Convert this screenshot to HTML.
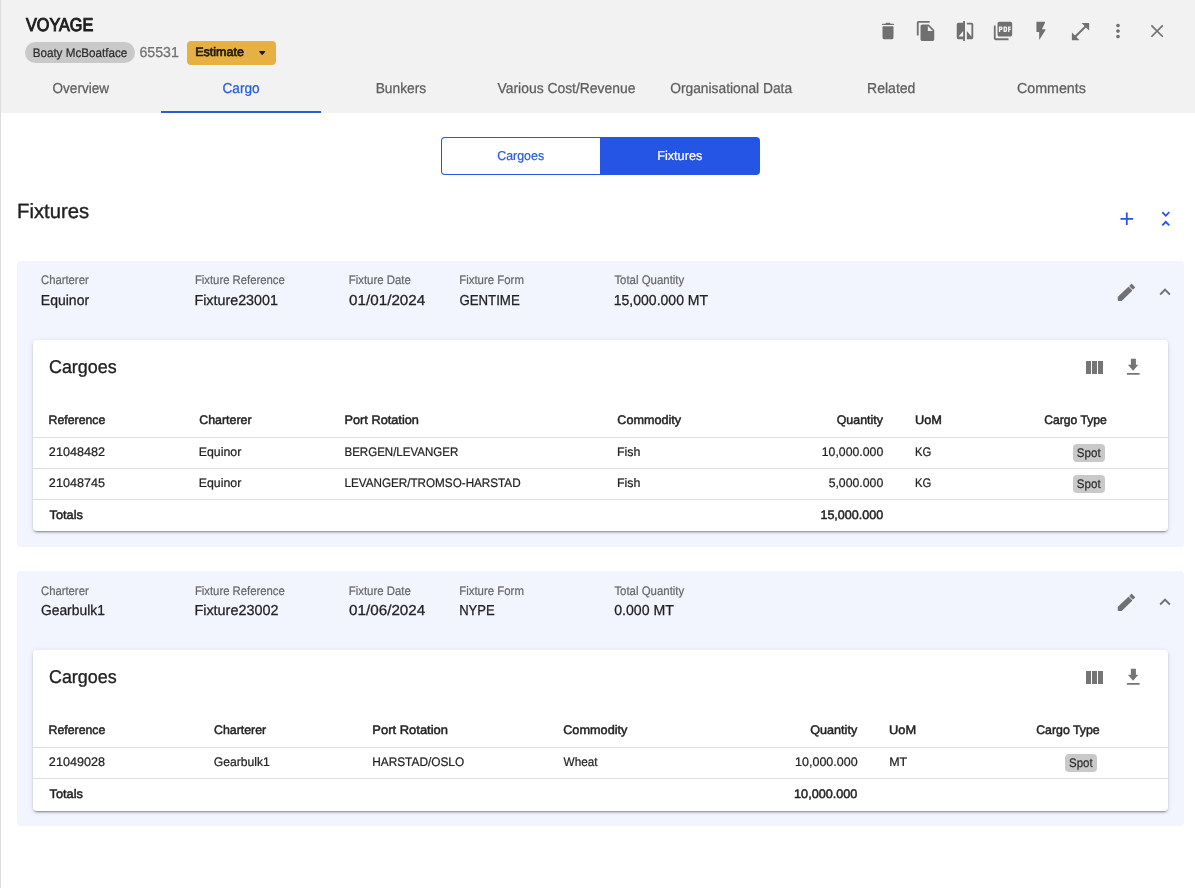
<!DOCTYPE html>
<html><head><meta charset="utf-8">
<style>
html,body{margin:0;padding:0;}
body{width:1195px;height:888px;position:relative;overflow:hidden;background:#fff;font-family:"Liberation Sans",sans-serif;}
.a{position:absolute;}
.t{position:absolute;left:0;top:0;white-space:nowrap;line-height:1;transform-origin:0 0;text-rendering:geometricPrecision;}
svg{position:absolute;overflow:visible;}
.hl{position:absolute;height:1px;background:#dedede;}
</style></head><body>
<!-- left border -->
<div class="a" style="left:0;top:0;width:1px;height:888px;background:#dcdcdc"></div>
<!-- header -->
<div class="a" style="left:1px;top:0;width:1194px;height:113px;background:#f2f2f2"></div>
<div class="a" style="left:161px;top:111px;width:160px;height:2px;background:#2a5bd7"></div>
<!-- vessel chip -->
<div class="a" style="left:25px;top:42.3px;width:110px;height:20.5px;border-radius:11px;background:#c9c9c9"></div>
<!-- estimate button -->
<div class="a" style="left:187.2px;top:41.1px;width:88.8px;height:23.7px;border-radius:4px;background:#e6b142"></div>
<svg style="left:259px;top:51.2px" width="6.4" height="4" viewBox="0 0 6.4 4"><path d="M0.8 0.7 L5.6 0.7 L3.2 3.3 Z" fill="#1f1a0e" stroke="#1f1a0e" stroke-width="1.2" stroke-linejoin="round"/></svg>
<!-- header icons -->
<svg style="left:877.27px;top:20.07px" width="22" height="22" viewBox="0 0 24 24" fill="#707070"><path d="M6 4h3.200l.8-1h4l.8 1H18a.75.75 0 0 1 0 1.500H6a.75.75 0 0 1 0-1.500z M6.800 6.900h10.400a.8.8 0 0 1 .8.800V19a2 2 0 0 1-2 2H8a2 2 0 0 1-2-2V7.700a.8.8 0 0 1 .8-.8z"/></svg>
<svg style="left:915.26px;top:20.10px" width="22" height="22" viewBox="0 0 24 24" fill="#707070"><path d="M16 1H4c-1.100 0-2 .9-2 2v14h2V3h12V1zm-1 4l6 6v10c0 1.100-.9 2-2 2H7.990C6.890 23 6 22.100 6 21l.010-14c0-1.100.890-2 1.990-2h7zm-1 7h5.500L14 6.500V12z"/></svg>
<svg style="left:954.15px;top:19.85px" width="22" height="22" viewBox="0 0 24 24" fill="#707070"><path d="M10 3H5c-1.100 0-2 .9-2 2v14c0 1.100.9 2 2 2h5v2h2V1h-2v2zm0 15H5l5-6v6zm9-15h-5v2h5v13l-5-6v9h5c1.100 0 2-.9 2-2V5c0-1.100-.9-2-2-2z"/></svg>
<svg style="left:992.30px;top:20.10px" width="22" height="22" viewBox="0 0 24 24" fill="#707070"><path d="M20 2H8c-1.100 0-2 .9-2 2v12c0 1.100.9 2 2 2h12c1.100 0 2-.9 2-2V4c0-1.100-.9-2-2-2zm-8.500 7.500c0 .830-.670 1.500-1.500 1.500H9v2H7.500V7H10c.830 0 1.500.670 1.500 1.500v1zm5 2c0 .830-.670 1.500-1.500 1.500h-2.500V7H15c.830 0 1.500.670 1.500 1.500v3zm4-3H19v1h1.500V11H19v2h-1.500V7h3v1.500zM9 9.500h1v-1H9v1zM4 6H2v14c0 1.100.9 2 2 2h14v-2H4V6zm10 5.500h1v-3h-1v3z"/></svg>
<svg style="left:1029.80px;top:19.80px" width="22" height="22" viewBox="0 0 24 24" fill="#707070"><path d="M7.400 2h8.400c.5 0 .8.500.6 1l-3.400 7h3.200c.6 0 .9.600.6 1.100L10.400 21.300c-.1.300-.4.100-.4-.1V13H7.400c-.2 0-.4-.2-.4-.4V2.400c0-.2.200-.4.400-.4z"/></svg>
<svg style="left:1068.60px;top:19.66px" width="23" height="23" viewBox="0 0 24 24" fill="#707070"><path d="M21 11V3h-8l3.290 3.290-10 10L3 13v8h8l-3.290-3.290 10-10z"/></svg>
<svg style="left:1107.20px;top:20.10px" width="22" height="22" viewBox="0 0 24 24" fill="#707070"><path d="M12 8c1.100 0 2-.9 2-2s-.9-2-2-2-2 .9-2 2 .9 2 2 2zm0 2c-1.100 0-2 .9-2 2s.9 2 2 2 2-.9 2-2-.9-2-2-2zm0 6c-1.100 0-2 .9-2 2s.9 2 2 2 2-.9 2-2-.9-2-2-2z"/></svg>
<svg style="left:0;top:0" width="1195" height="60" viewBox="0 0 1195 60" fill="none" stroke="#707070" stroke-width="1.7"><path d="M1151.40 25.37L1162.80 36.77M1162.80 25.37L1151.40 36.77"/></svg>
<!-- toggle -->
<div class="a" style="left:441px;top:137px;width:319px;height:38px;border-radius:4px;background:#2455e4"></div>
<div class="a" style="left:442px;top:138px;width:158px;height:36px;border-radius:3px 0 0 3px;background:#fff"></div>
<!-- heading icons -->
<svg style="left:1115.9px;top:208px" width="21.6" height="21.6" viewBox="0 0 24 24" fill="#2455e4"><path d="M19 13h-6v6h-2v-6H5v-2h6V5h2v6h6v2z"/></svg>
<svg style="left:1154.7px;top:207.9px" width="21.6" height="21.6" viewBox="0 0 24 24" fill="#2455e4"><path d="M7.410 18.590L8.830 20 12 16.830 15.170 20l1.410-1.410L12 14l-4.590 4.590zm9.180-13.180L15.170 4 12 7.170 8.830 4 7.410 5.410 12 10l4.590-4.590z"/></svg>
<div class="a" style="left:17px;top:261.3px;width:1167px;height:285.4px;border-radius:4px;background:#f2f5fd"></div>
<div class="a" style="left:32.8px;top:339.6px;width:1135.4px;height:191.2px;border-radius:4px;background:#fff;box-shadow:0 3px 1px -2px rgba(0,0,0,.2),0 2px 2px 0 rgba(0,0,0,.14),0 1px 5px 0 rgba(0,0,0,.12)"></div>
<div class="hl" style="left:33px;top:437px;width:1135px"></div>
<div class="hl" style="left:33px;top:468px;width:1135px"></div>
<div class="hl" style="left:33px;top:499px;width:1135px"></div>
<svg style="left:0;top:278px" width="1195" height="40" viewBox="0 278 1195 40" fill="#6f7174" stroke="#6f7174" stroke-width="1.2" stroke-linejoin="round"><path d="M1128.55 287.45 L1131.55 290.45 L1121.5 300.3 L1118.4 300.3 L1118.3 297.2 Z"/><path d="M1129.95 286.05 L1131.6 284.4 L1134.5 287.3 L1132.85 288.95 Z"/></svg>
<svg style="left:1154.35px;top:281.2px" width="22" height="22" viewBox="0 0 24 24" fill="#6f7174"><path d="M12 8l-6 6 1.410 1.410L12 10.830l4.590 4.580L18 14z"/></svg>
<svg style="left:1081.7px;top:355.8px" width="24" height="24" viewBox="0 0 24 24" fill="#757575"><path d="M10 18h5V5h-5v13zm-6 0h5V5H4v13zM16 5v13h5V5h-5z"/></svg>
<svg style="left:0;top:352px" width="1195" height="30" viewBox="0 352 1195 30" fill="#757575"><path d="M1130.9 358.7 H1135.9 V364.7 H1138.3 L1133.1 370.7 L1127.9 364.7 H1130.9 Z M1126.9 372.95 H1139.6 V374.75 H1126.9 Z"/></svg>
<div class="a" style="left:17px;top:571.3px;width:1167px;height:254.4px;border-radius:4px;background:#f2f5fd"></div>
<div class="a" style="left:32.8px;top:649.6px;width:1135.4px;height:161.2px;border-radius:4px;background:#fff;box-shadow:0 3px 1px -2px rgba(0,0,0,.2),0 2px 2px 0 rgba(0,0,0,.14),0 1px 5px 0 rgba(0,0,0,.12)"></div>
<div class="hl" style="left:33px;top:747px;width:1135px"></div>
<div class="hl" style="left:33px;top:778px;width:1135px"></div>
<svg style="left:0;top:588px" width="1195" height="40" viewBox="0 278 1195 40" fill="#6f7174" stroke="#6f7174" stroke-width="1.2" stroke-linejoin="round"><path d="M1128.55 287.45 L1131.55 290.45 L1121.5 300.3 L1118.4 300.3 L1118.3 297.2 Z"/><path d="M1129.95 286.05 L1131.6 284.4 L1134.5 287.3 L1132.85 288.95 Z"/></svg>
<svg style="left:1154.35px;top:591.2px" width="22" height="22" viewBox="0 0 24 24" fill="#6f7174"><path d="M12 8l-6 6 1.410 1.410L12 10.830l4.590 4.580L18 14z"/></svg>
<svg style="left:1081.7px;top:665.8px" width="24" height="24" viewBox="0 0 24 24" fill="#757575"><path d="M10 18h5V5h-5v13zm-6 0h5V5H4v13zM16 5v13h5V5h-5z"/></svg>
<svg style="left:0;top:662px" width="1195" height="30" viewBox="0 352 1195 30" fill="#757575"><path d="M1130.9 358.7 H1135.9 V364.7 H1138.3 L1133.1 370.7 L1127.9 364.7 H1130.9 Z M1126.9 372.95 H1139.6 V374.75 H1126.9 Z"/></svg>
<div class="a" style="left:1073px;top:444.2px;width:32px;height:17.5px;border-radius:4px;background:#c9c9c9"></div>
<div class="a" style="left:1073px;top:475.3px;width:32px;height:17.5px;border-radius:4px;background:#c9c9c9"></div>
<div class="a" style="left:1065px;top:754.3px;width:32px;height:17.5px;border-radius:4px;background:#c9c9c9"></div>

<div id="tx" style="position:absolute;left:0;top:0;width:1195px;height:888px;will-change:transform;">
<span class="t" style="font-size:18.5px;color:#1f1f1f;-webkit-text-stroke:1.02px #1f1f1f;transform:translate(25.97px,16.00px) scaleX(0.8767)">VOYAGE</span>
<span class="t" style="font-size:12.4px;color:#2b2b2b;-webkit-text-stroke:0.22px #2b2b2b;transform:translate(32.63px,47.00px) scaleX(0.9410)">Boaty McBoatface</span>
<span class="t" style="font-size:14.4px;color:#707070;-webkit-text-stroke:0.26px #707070;transform:translate(139.40px,46.00px) scaleX(0.9859)">65531</span>
<span class="t" style="font-size:12.4px;color:#1f1a0e;-webkit-text-stroke:0.68px #1f1a0e;transform:translate(195.16px,46.00px) scaleX(1.0108)">Estimate</span>
<span class="t" style="font-size:14.4px;color:#5e5e5e;-webkit-text-stroke:0.26px #5e5e5e;transform:translate(52.59px,82.00px) scaleX(0.9397)">Overview</span>
<span class="t" style="font-size:14.4px;color:#2a5bd7;-webkit-text-stroke:0.26px #2a5bd7;transform:translate(222.49px,82.00px) scaleX(0.9473)">Cargo</span>
<span class="t" style="font-size:14.4px;color:#5e5e5e;-webkit-text-stroke:0.26px #5e5e5e;transform:translate(375.70px,82.00px) scaleX(0.9549)">Bunkers</span>
<span class="t" style="font-size:14.4px;color:#5e5e5e;-webkit-text-stroke:0.26px #5e5e5e;transform:translate(497.54px,82.00px) scaleX(0.9645)">Various Cost/Revenue</span>
<span class="t" style="font-size:14.4px;color:#5e5e5e;-webkit-text-stroke:0.26px #5e5e5e;transform:translate(670.17px,82.00px) scaleX(0.9585)">Organisational Data</span>
<span class="t" style="font-size:14.4px;color:#5e5e5e;-webkit-text-stroke:0.26px #5e5e5e;transform:translate(867.06px,82.00px) scaleX(0.9746)">Related</span>
<span class="t" style="font-size:14.4px;color:#5e5e5e;-webkit-text-stroke:0.26px #5e5e5e;transform:translate(1016.92px,82.00px) scaleX(0.9914)">Comments</span>
<span class="t" style="font-size:12.9px;color:#2a5bd7;-webkit-text-stroke:0.23px #2a5bd7;transform:translate(497.26px,150.00px) scaleX(0.9607)">Cargoes</span>
<span class="t" style="font-size:12.9px;color:#ffffff;-webkit-text-stroke:0.23px #ffffff;transform:translate(657.13px,150.00px) scaleX(0.9859)">Fixtures</span>
<span class="t" style="font-size:20.6px;color:#1f1f1f;-webkit-text-stroke:0.37px #1f1f1f;transform:translate(17.06px,202.00px) scaleX(0.9858)">Fixtures</span>
<span class="t" style="font-size:12.4px;color:#666769;-webkit-text-stroke:0.22px #666769;transform:translate(40.98px,274.00px) scaleX(0.9113)">Charterer</span>
<span class="t" style="font-size:12.4px;color:#666769;-webkit-text-stroke:0.22px #666769;transform:translate(194.90px,274.00px) scaleX(0.9131)">Fixture Reference</span>
<span class="t" style="font-size:12.4px;color:#666769;-webkit-text-stroke:0.22px #666769;transform:translate(348.78px,274.00px) scaleX(0.9178)">Fixture Date</span>
<span class="t" style="font-size:12.4px;color:#666769;-webkit-text-stroke:0.22px #666769;transform:translate(459.23px,274.00px) scaleX(0.9209)">Fixture Form</span>
<span class="t" style="font-size:12.4px;color:#666769;-webkit-text-stroke:0.22px #666769;transform:translate(614.38px,274.00px) scaleX(0.9223)">Total Quantity</span>
<span class="t" style="font-size:14.4px;color:#222222;-webkit-text-stroke:0.26px #222222;transform:translate(40.84px,294.00px) scaleX(0.9725)">Equinor</span>
<span class="t" style="font-size:14.4px;color:#222222;-webkit-text-stroke:0.26px #222222;transform:translate(194.44px,294.00px) scaleX(0.9938)">Fixture23001</span>
<span class="t" style="font-size:14.4px;color:#222222;-webkit-text-stroke:0.26px #222222;transform:translate(349.07px,294.00px) scaleX(1.0578)">01/01/2024</span>
<span class="t" style="font-size:14.4px;color:#222222;-webkit-text-stroke:0.26px #222222;transform:translate(459.38px,294.00px) scaleX(0.9208)">GENTIME</span>
<span class="t" style="font-size:14.4px;color:#222222;-webkit-text-stroke:0.26px #222222;transform:translate(613.68px,294.00px) scaleX(0.9759)">15,000.000 MT</span>
<span class="t" style="font-size:18.5px;color:#222222;-webkit-text-stroke:0.33px #222222;transform:translate(48.95px,358.00px) scaleX(0.9691)">Cargoes</span>
<span class="t" style="font-size:12.4px;color:#666769;-webkit-text-stroke:0.22px #666769;transform:translate(40.98px,585.00px) scaleX(0.9113)">Charterer</span>
<span class="t" style="font-size:12.4px;color:#666769;-webkit-text-stroke:0.22px #666769;transform:translate(194.90px,585.00px) scaleX(0.9131)">Fixture Reference</span>
<span class="t" style="font-size:12.4px;color:#666769;-webkit-text-stroke:0.22px #666769;transform:translate(348.78px,585.00px) scaleX(0.9178)">Fixture Date</span>
<span class="t" style="font-size:12.4px;color:#666769;-webkit-text-stroke:0.22px #666769;transform:translate(459.23px,585.00px) scaleX(0.9209)">Fixture Form</span>
<span class="t" style="font-size:12.4px;color:#666769;-webkit-text-stroke:0.22px #666769;transform:translate(614.38px,585.00px) scaleX(0.9223)">Total Quantity</span>
<span class="t" style="font-size:14.4px;color:#222222;-webkit-text-stroke:0.26px #222222;transform:translate(40.91px,604.00px) scaleX(0.9633)">Gearbulk1</span>
<span class="t" style="font-size:14.4px;color:#222222;-webkit-text-stroke:0.26px #222222;transform:translate(194.42px,604.00px) scaleX(0.9996)">Fixture23002</span>
<span class="t" style="font-size:14.4px;color:#222222;-webkit-text-stroke:0.26px #222222;transform:translate(349.07px,604.00px) scaleX(1.0578)">01/06/2024</span>
<span class="t" style="font-size:14.4px;color:#222222;-webkit-text-stroke:0.26px #222222;transform:translate(459.17px,604.00px) scaleX(0.9059)">NYPE</span>
<span class="t" style="font-size:14.4px;color:#222222;-webkit-text-stroke:0.26px #222222;transform:translate(614.20px,604.00px) scaleX(0.9810)">0.000 MT</span>
<span class="t" style="font-size:18.5px;color:#222222;-webkit-text-stroke:0.33px #222222;transform:translate(48.95px,668.00px) scaleX(0.9691)">Cargoes</span>
<span class="t" style="font-size:12.4px;color:#222222;-webkit-text-stroke:0.47px #222222;transform:translate(48.52px,414.00px) scaleX(0.9944)">Reference</span>
<span class="t" style="font-size:12.4px;color:#222222;-webkit-text-stroke:0.47px #222222;transform:translate(199.21px,414.00px) scaleX(1.0005)">Charterer</span>
<span class="t" style="font-size:12.4px;color:#222222;-webkit-text-stroke:0.47px #222222;transform:translate(344.50px,414.00px) scaleX(1.0290)">Port Rotation</span>
<span class="t" style="font-size:12.4px;color:#222222;-webkit-text-stroke:0.47px #222222;transform:translate(617.27px,414.00px) scaleX(1.0202)">Commodity</span>
<span class="t" style="font-size:12.4px;color:#222222;-webkit-text-stroke:0.47px #222222;transform:translate(836.75px,414.00px) scaleX(0.9986)">Quantity</span>
<span class="t" style="font-size:12.4px;color:#222222;-webkit-text-stroke:0.47px #222222;transform:translate(915.02px,414.00px) scaleX(1.0309)">UoM</span>
<span class="t" style="font-size:12.4px;color:#222222;-webkit-text-stroke:0.47px #222222;transform:translate(1044.16px,414.00px) scaleX(0.9822)">Cargo Type</span>
<span class="t" style="font-size:12.4px;color:#222222;-webkit-text-stroke:0.22px #222222;transform:translate(48.86px,446.00px) scaleX(1.0192)">21048482</span>
<span class="t" style="font-size:12.4px;color:#222222;-webkit-text-stroke:0.22px #222222;transform:translate(198.69px,446.00px) scaleX(0.9965)">Equinor</span>
<span class="t" style="font-size:12.4px;color:#222222;-webkit-text-stroke:0.22px #222222;transform:translate(344.45px,446.00px) scaleX(0.9309)">BERGEN/LEVANGER</span>
<span class="t" style="font-size:12.4px;color:#222222;-webkit-text-stroke:0.22px #222222;transform:translate(616.89px,446.00px) scaleX(1.0023)">Fish</span>
<span class="t" style="font-size:12.4px;color:#222222;-webkit-text-stroke:0.22px #222222;transform:translate(821.76px,446.00px) scaleX(0.9914)">10,000.000</span>
<span class="t" style="font-size:12.4px;color:#222222;-webkit-text-stroke:0.22px #222222;transform:translate(914.97px,446.00px) scaleX(0.9104)">KG</span>
<span class="t" style="font-size:12.4px;color:#222222;-webkit-text-stroke:0.22px #222222;transform:translate(48.86px,477.00px) scaleX(1.0194)">21048745</span>
<span class="t" style="font-size:12.4px;color:#222222;-webkit-text-stroke:0.22px #222222;transform:translate(198.69px,477.00px) scaleX(0.9965)">Equinor</span>
<span class="t" style="font-size:12.4px;color:#222222;-webkit-text-stroke:0.22px #222222;transform:translate(344.42px,477.00px) scaleX(0.9432)">LEVANGER/TROMSO-HARSTAD</span>
<span class="t" style="font-size:12.4px;color:#222222;-webkit-text-stroke:0.22px #222222;transform:translate(616.89px,477.00px) scaleX(1.0023)">Fish</span>
<span class="t" style="font-size:12.4px;color:#222222;-webkit-text-stroke:0.22px #222222;transform:translate(828.64px,477.00px) scaleX(0.9901)">5,000.000</span>
<span class="t" style="font-size:12.4px;color:#222222;-webkit-text-stroke:0.22px #222222;transform:translate(914.97px,477.00px) scaleX(0.9104)">KG</span>
<span class="t" style="font-size:12.4px;color:#222222;-webkit-text-stroke:0.47px #222222;transform:translate(49.58px,509.00px) scaleX(1.0295)">Totals</span>
<span class="t" style="font-size:12.4px;color:#222222;-webkit-text-stroke:0.47px #222222;transform:translate(820.43px,509.00px) scaleX(1.0113)">15,000.000</span>
<span class="t" style="font-size:12.4px;color:#2b2b2b;-webkit-text-stroke:0.22px #2b2b2b;transform:translate(1076.86px,447.00px) scaleX(0.9311)">Spot</span>
<span class="t" style="font-size:12.4px;color:#2b2b2b;-webkit-text-stroke:0.22px #2b2b2b;transform:translate(1076.86px,478.00px) scaleX(0.9311)">Spot</span>
<span class="t" style="font-size:12.4px;color:#222222;-webkit-text-stroke:0.47px #222222;transform:translate(48.52px,724.00px) scaleX(0.9944)">Reference</span>
<span class="t" style="font-size:12.4px;color:#222222;-webkit-text-stroke:0.47px #222222;transform:translate(213.95px,724.00px) scaleX(0.9990)">Charterer</span>
<span class="t" style="font-size:12.4px;color:#222222;-webkit-text-stroke:0.47px #222222;transform:translate(372.34px,724.00px) scaleX(1.0460)">Port Rotation</span>
<span class="t" style="font-size:12.4px;color:#222222;-webkit-text-stroke:0.47px #222222;transform:translate(563.19px,724.00px) scaleX(1.0261)">Commodity</span>
<span class="t" style="font-size:12.4px;color:#222222;-webkit-text-stroke:0.47px #222222;transform:translate(810.25px,724.00px) scaleX(1.0179)">Quantity</span>
<span class="t" style="font-size:12.4px;color:#222222;-webkit-text-stroke:0.47px #222222;transform:translate(889.01px,724.00px) scaleX(1.0346)">UoM</span>
<span class="t" style="font-size:12.4px;color:#222222;-webkit-text-stroke:0.47px #222222;transform:translate(1036.21px,724.00px) scaleX(0.9950)">Cargo Type</span>
<span class="t" style="font-size:12.4px;color:#222222;-webkit-text-stroke:0.22px #222222;transform:translate(48.85px,756.00px) scaleX(1.0208)">21049028</span>
<span class="t" style="font-size:12.4px;color:#222222;-webkit-text-stroke:0.22px #222222;transform:translate(213.80px,756.00px) scaleX(0.9800)">Gearbulk1</span>
<span class="t" style="font-size:12.4px;color:#222222;-webkit-text-stroke:0.22px #222222;transform:translate(372.18px,756.00px) scaleX(0.9568)">HARSTAD/OSLO</span>
<span class="t" style="font-size:12.4px;color:#222222;-webkit-text-stroke:0.22px #222222;transform:translate(563.60px,756.00px) scaleX(0.9499)">Wheat</span>
<span class="t" style="font-size:12.4px;color:#222222;-webkit-text-stroke:0.22px #222222;transform:translate(795.06px,756.00px) scaleX(1.0086)">10,000.000</span>
<span class="t" style="font-size:12.4px;color:#222222;-webkit-text-stroke:0.22px #222222;transform:translate(889.13px,756.00px) scaleX(1.0058)">MT</span>
<span class="t" style="font-size:12.4px;color:#222222;-webkit-text-stroke:0.47px #222222;transform:translate(49.58px,788.00px) scaleX(1.0295)">Totals</span>
<span class="t" style="font-size:12.4px;color:#222222;-webkit-text-stroke:0.47px #222222;transform:translate(794.09px,788.00px) scaleX(1.0199)">10,000.000</span>
<span class="t" style="font-size:12.4px;color:#2b2b2b;-webkit-text-stroke:0.22px #2b2b2b;transform:translate(1069.11px,757.00px) scaleX(0.9232)">Spot</span>
</div>
</body></html>
